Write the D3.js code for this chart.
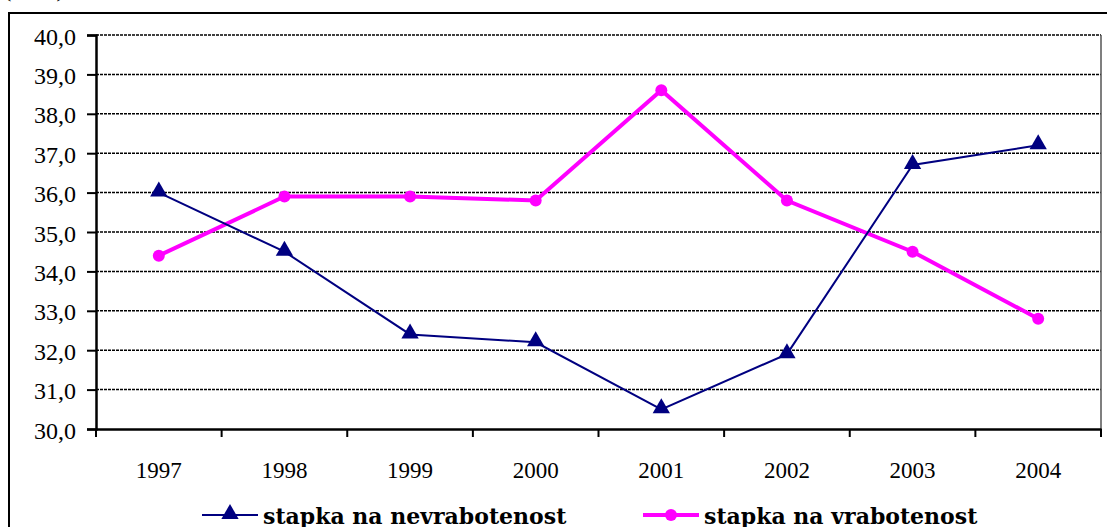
<!DOCTYPE html>
<html>
<head>
<meta charset="utf-8">
<script src="https://cdn.jsdelivr.net/npm/d3@7"></script>
<style>
  body { margin: 0; background: #fff; overflow: hidden; }
  .serif { font-family: "Liberation Serif", "Times New Roman", Tinos, serif; }
</style>
</head>
<body>
<script>
'use strict';

// chart data
const years = ["1997", "1998", "1999", "2000", "2001", "2002", "2003", "2004"];
const nevrabotenost = [36.0, 34.5, 32.4, 32.2, 30.5, 31.9, 36.7, 37.2];
const vrabotenost = [34.4, 35.9, 35.9, 35.8, 38.6, 35.8, 34.5, 32.8];
const yTicks = [30, 31, 32, 33, 34, 35, 36, 37, 38, 39, 40];
const seriesNames = ["stapka na nevrabotenost", "stapka na vrabotenost"];

(function() {
  let svg = d3.select('body')
    .append('svg')
    .attr('width', 1107)
    .attr('height', 527);

  let plot = {left: 96, right: 1101, top: 35, bottom: 429};

  // half visible caption at the very top
  svg.append('text')
    .attr('class', 'serif')
    .attr('x', 4)
    .attr('y', -3)
    .style('font-size', '22px')
    .text('(во %)');

  // outer frame, runs out of the picture on the right and bottom
  svg.append('rect')
    .attr('x', 9)
    .attr('y', 13)
    .attr('width', 1200)
    .attr('height', 600)
    .attr('fill', 'none')
    .attr('stroke', '#000')
    .attr('stroke-width', 2);

  let xScale = d3.scaleBand()
    .domain(years)
    .range([plot.left, plot.right]);

  let yScale = d3.scaleLinear()
    .domain([30, 40])
    .range([plot.bottom, plot.top]);

  let fmt = d => d.toFixed(1).replace('.', ',');

  // dashed gridlines
  svg.append('g')
    .selectAll('line')
    .data(yTicks.filter(d => d > 30))
    .enter()
    .append('line')
      .attr('x1', plot.left)
      .attr('x2', plot.right)
      .attr('y1', d => yScale(d))
      .attr('y2', d => yScale(d))
      .attr('stroke', '#000')
      .attr('stroke-width', 1.5)
      .attr('stroke-dasharray', '3,1');

  // right border of plot area
  svg.append('line')
    .attr('x1', plot.right)
    .attr('x2', plot.right)
    .attr('y1', plot.top)
    .attr('y2', plot.bottom)
    .attr('stroke', '#555')
    .attr('stroke-width', 1.5);

  // y axis
  let yAxis = d3.axisLeft(yScale)
    .tickValues(yTicks)
    .tickFormat(fmt)
    .tickSize(9)
    .tickPadding(11);
  let gy = svg.append('g')
    .attr('transform', 'translate(' + plot.left + ', 0)')
    .call(yAxis);

  // x axis, ticks on category boundaries
  let xAxis = d3.axisBottom(xScale)
    .tickSize(0)
    .tickPadding(33);
  let gx = svg.append('g')
    .attr('transform', 'translate(0, ' + plot.bottom + ')')
    .call(xAxis);

  gx.selectAll('line.bound')
    .data(d3.range(years.length + 1))
    .enter()
    .append('line')
      .attr('class', 'bound')
      .attr('x1', i => plot.left + i * xScale.step())
      .attr('x2', i => plot.left + i * xScale.step())
      .attr('y1', 0)
      .attr('y2', 8)
      .attr('stroke', '#000')
      .attr('stroke-width', 2);

  [gx, gy].forEach(g => {
    g.attr('font-family', null).attr('font-size', null);
    g.select('.domain').attr('stroke', '#000').attr('stroke-width', 2.5);
    g.selectAll('.tick line').attr('stroke', '#000').attr('stroke-width', 2);
    g.selectAll('text')
      .attr('class', 'serif')
      .attr('fill', '#000');
  });
  gy.selectAll('text').style('font-size', '24px').attr('dy', '0.38em');
  gx.selectAll('text').style('font-size', '23px');

  let cx = d => xScale(d) + xScale.bandwidth() / 2;

  let line = d3.line()
    .x((d, i) => cx(years[i]))
    .y(d => yScale(d));

  let triangle = d3.symbol().type(d3.symbolTriangle).size(130);

  // magenta series
  svg.append('path')
    .datum(vrabotenost)
    .attr('fill', 'none')
    .attr('stroke', '#ff00ff')
    .attr('stroke-width', 4)
    .attr('d', line);

  svg.selectAll('.dot')
    .data(vrabotenost)
    .enter()
    .append('circle')
      .attr('cx', (d, i) => cx(years[i]))
      .attr('cy', d => yScale(d))
      .attr('r', 6)
      .attr('fill', '#ff00ff');

  // navy series
  svg.append('path')
    .datum(nevrabotenost)
    .attr('fill', 'none')
    .attr('stroke', '#000080')
    .attr('stroke-width', 2)
    .attr('d', line);

  svg.selectAll('.tri')
    .data(nevrabotenost)
    .enter()
    .append('path')
      .attr('d', triangle)
      .attr('transform', (d, i) => 'translate(' + cx(years[i]) + ',' + (yScale(d) - 1) + ')')
      .attr('fill', '#000080');

  // legend
  let legendY = 515;
  let legend = [
    {x: 202, color: '#000080', width: 2, marker: 'tri'},
    {x: 643, color: '#ff00ff', width: 4, marker: 'dot'}
  ];
  legend.forEach((l, i) => {
    svg.append('line')
      .attr('x1', l.x)
      .attr('x2', l.x + 56)
      .attr('y1', legendY)
      .attr('y2', legendY)
      .attr('stroke', l.color)
      .attr('stroke-width', l.width);
    if (l.marker == 'tri') {
      svg.append('path')
        .attr('d', triangle)
        .attr('transform', 'translate(' + (l.x + 28) + ',' + (legendY - 1) + ')')
        .attr('fill', l.color);
    } else {
      svg.append('circle')
        .attr('cx', l.x + 28)
        .attr('cy', legendY)
        .attr('r', 6)
        .attr('fill', l.color);
    }
    svg.append('text')
      .attr('x', l.x + 61)
      .attr('y', legendY + 9)
      .style('font-family', 'DejaVu Serif')
      .style('font-weight', 'bold')
      .style('font-size', '22px')
      .text(seriesNames[i]);
  });
})();
</script>
</body>
</html>
